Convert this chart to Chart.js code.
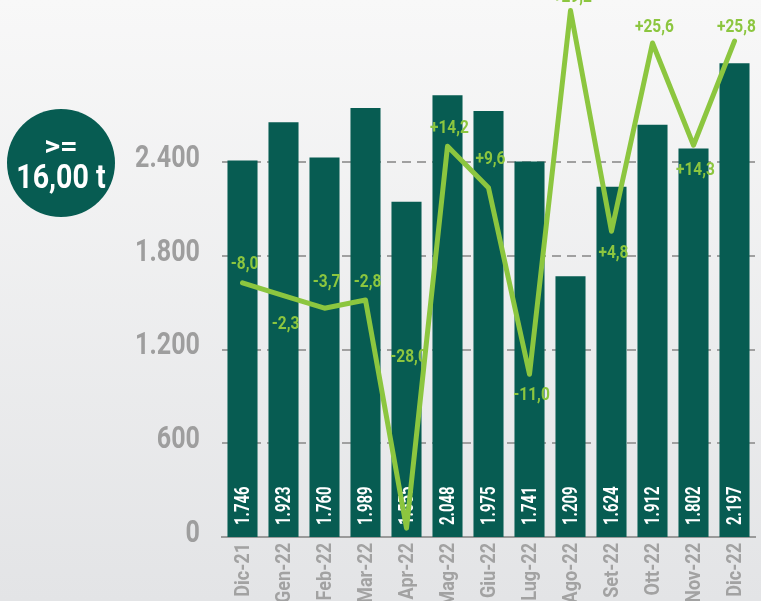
<!DOCTYPE html>
<html>
<head>
<meta charset="utf-8">
<script src="https://cdn.jsdelivr.net/npm/chart.js@4.4.1/dist/chart.umd.min.js"></script>
<style>
html,body{margin:0;padding:0;}
body{width:761px;height:601px;overflow:hidden;position:relative;background:linear-gradient(#f8f8f8,#e3e4e6);font-family:Roboto,sans-serif;}
#wrap{position:absolute;left:0;top:0;width:761px;height:601px;}
.badge{position:absolute;left:7px;top:109px;width:108px;height:108px;border-radius:50%;background:#075c52;color:#fff;text-align:center;font-weight:bold;}
.badge .a{position:absolute;top:23px;left:0;right:0;font-size:28px;line-height:28px;transform:scaleX(1.1);}
.badge .b{position:absolute;top:50px;left:0;right:0;font-size:34px;line-height:34px;transform:scaleX(0.84);}
</style>
</head>
<body>
<div id="wrap"><canvas id="c" width="761" height="601"></canvas></div>
<div class="badge"><div class="a">&gt;=</div><div class="b">16,00 t</div></div>
<script>
const mesi=['Dic-21','Gen-22','Feb-22','Mar-22','Apr-22','Mag-22','Giu-22','Lug-22','Ago-22','Set-22','Ott-22','Nov-22','Dic-22'];
const quantita=[1746,1923,1760,1989,1555,2048,1975,1741,1209,1624,1912,1802,2197];
const andamento=[-0.9,-2.3,-3.7,-2.8,-28.0,14.2,9.6,-11.0,29.2,4.8,25.6,14.3,25.8];
const variazioni=['-8,0','-2,3','-3,7','-2,8','-28,0','+14,2','+9,6','-11,0','+29,2','+4,8','+25,6','+14,3','+25,8'];
const tickAsse=[0,600,1200,1800,2400];

const FONT='Roboto, sans-serif';
const VERDE='#075c52', LIME='#8cc63f', GRIGIO='#a0a0a0';
// scostamento verticale delle etichette della linea rispetto al punto
const dyEtich=[-18,29,-26,-18,-171,-18,-28,21,-13,22,-15,25,-14];

const fmt=v=>String(v).replace(/\B(?=(\d{3})+(?!\d))/g,'.');

// testo "condensato" come nell'originale
function testo(ctx,t,x,y,rot,sx){
  ctx.save();
  ctx.translate(x,y);
  if(rot) ctx.rotate(rot);
  ctx.scale(sx,1);
  ctx.fillText(t,0,0);
  ctx.restore();
}

const etichette={
  id:'etichette',
  afterDatasetDraw(chart,args){
    if(args.index!==1) return;
    const ctx=chart.ctx;
    const base=chart.scales.yb.getPixelForValue(0);
    ctx.save();
    ctx.fillStyle='#fff';
    ctx.font='bold 21px '+FONT;
    ctx.textAlign='left';ctx.textBaseline='middle';
    args.meta.data.forEach((b,i)=>testo(ctx,fmt(quantita[i]),b.x+1,base-12,-Math.PI/2,0.71));
    ctx.restore();
  },
  afterDatasetsDraw(chart){
    const ctx=chart.ctx;
    ctx.save();
    ctx.fillStyle=LIME;
    ctx.font='bold 18px '+FONT;
    ctx.textAlign='center';ctx.textBaseline='middle';
    chart.getDatasetMeta(0).data.forEach((p,i)=>testo(ctx,variazioni[i],p.x+2,p.y+dyEtich[i],0,0.86));
    // assi
    const sy=chart.scales.y, sx=chart.scales.x;
    ctx.fillStyle='#9e9e9e';
    ctx.font='bold 31px '+FONT;
    ctx.textAlign='right';
    tickAsse.forEach(v=>testo(ctx,fmt(v),200,sy.getPixelForValue(v)-3,0,0.81));
    ctx.fillStyle='#a2a2a2';
    ctx.font='bold 21px '+FONT;
    mesi.forEach((m,i)=>testo(ctx,m,sx.getPixelForTick(i)+1,sy.bottom+6,-Math.PI/2,0.86));
    ctx.restore();
  }
};

const noPad=s=>{s.paddingTop=0;s.paddingBottom=0;s.paddingLeft=0;s.paddingRight=0;};

new Chart(document.getElementById('c'),{
  data:{labels:mesi,datasets:[
    {type:'line',data:andamento,yAxisID:'yp',borderColor:LIME,borderWidth:5,borderJoinStyle:'round',borderCapStyle:'round',pointRadius:0,tension:0,order:0,clip:false},
    {type:'bar',data:quantita,yAxisID:'yb',backgroundColor:VERDE,categoryPercentage:1,barPercentage:0.733,order:1}
  ]},
  options:{
    responsive:false,animation:false,
    layout:{padding:{left:0,right:6,top:0,bottom:0}},
    plugins:{legend:{display:false},tooltip:{enabled:false}},
    scales:{
      x:{offset:true,grid:{display:false},border:{color:'#9a9a9a',width:2},
        ticks:{display:false},
        afterFit:s=>{s.height=64;noPad(s);}},
      y:{position:'left',min:0,max:3437,
        afterBuildTicks:s=>{s.ticks=tickAsse.map(v=>({value:v}));},
        grid:{color:GRIGIO,lineWidth:2,drawTicks:false},
        border:{display:false,dash:[9,6]},
        ticks:{display:false},
        afterFit:s=>{s.width=222;noPad(s);}},
      yb:{display:false,min:0,max:2490},
      yp:{display:false,min:-28.98,max:30.35}
    }
  },
  plugins:[etichette]
});
</script>
</body>
</html>
